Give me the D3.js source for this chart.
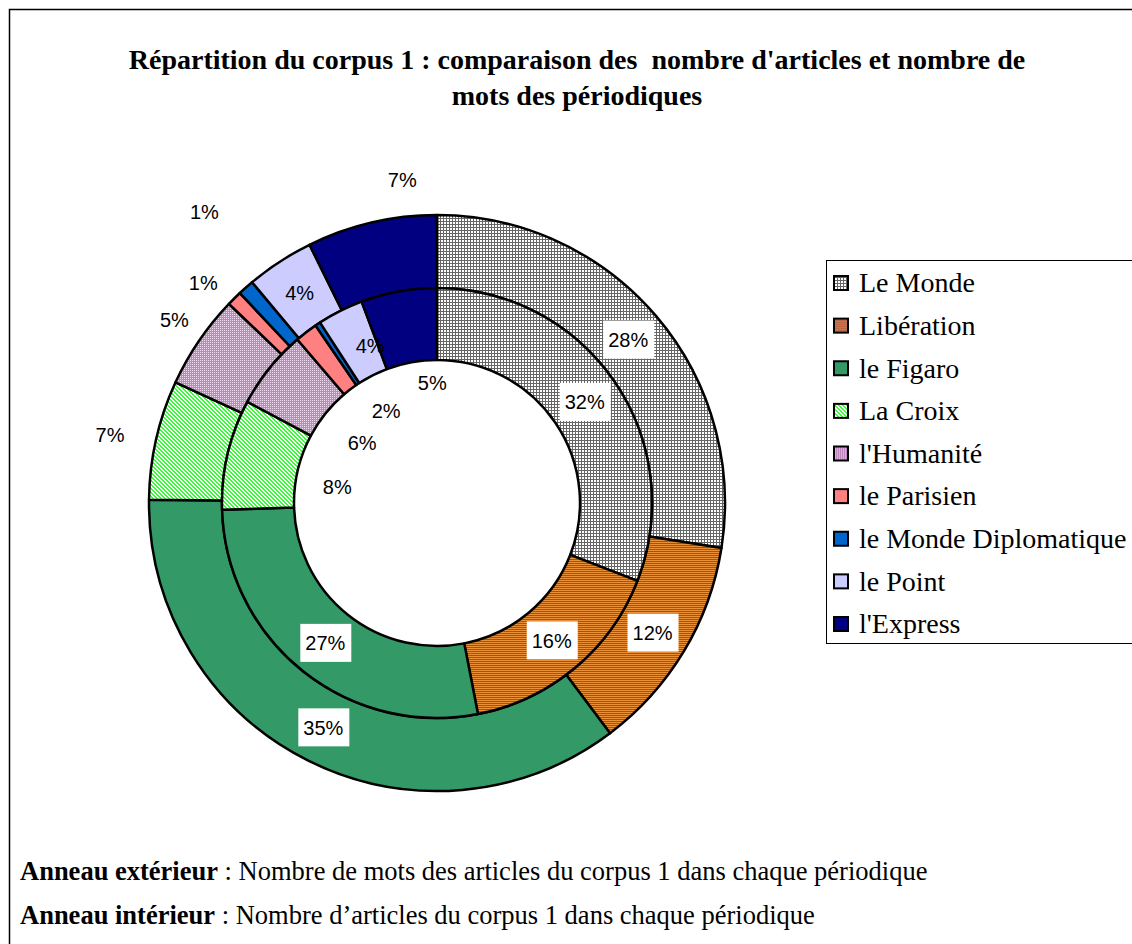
<!DOCTYPE html>
<html>
<head>
<meta charset="utf-8">
<script src="https://cdn.jsdelivr.net/npm/d3@7"></script>
<style>
  body { margin: 0; background: #fff; }
  svg { display: block; }
  .label { font-family: Arial, "Liberation Sans", sans-serif; font-size: 20px; fill: #000; }
  .serif { font-family: "Times New Roman", "Liberation Serif", serif; fill: #000; white-space: pre; }
</style>
</head>
<body>
<svg width="1132" height="944"></svg>
<script>
// the newspapers (same order for both rings, clockwise from 12 o'clock)
let periodiques = ["Le Monde", "Libération", "le Figaro", "La Croix", "l'Humanité",
  "le Parisien", "le Monde Diplomatique", "le Point", "l'Express"];

// outer ring: share of words
let motsValues = [27.5, 12.25, 35.45, 6.7, 5.27, 0.85, 0.9, 3.8, 7.3];
// inner ring: share of articles
let articlesValues = [30.9, 16.05, 27.55, 8.3, 5.95, 1.7, 0.4, 3.45, 5.7];

// the percentages excel printed on the chart
let motsLabels = ["28%", "12%", "35%", "7%", "5%", "1%", "1%", "4%", "7%"];
let articlesLabels = ["32%", "16%", "27%", "8%", "6%", "2%", "", "4%", "5%"];

let titleLines = ["Répartition du corpus 1 : comparaison des  nombre d'articles et nombre de",
  "mots des périodiques"];

let svg = d3.select("svg");

/*
 * fill patterns, they try to look like the old excel hatchings
 */
let defs = svg.append("defs");

// little helper: a pattern made of 1px cells
let pixelPattern = function(id, size, bg, fg, cells) {
  let p = defs.append("pattern")
    .attr("id", id)
    .attr("width", size)
    .attr("height", size)
    .attr("patternUnits", "userSpaceOnUse");
  p.append("rect").attr("width", size).attr("height", size).attr("fill", bg);
  cells.forEach(function(c) {
    p.append("rect")
      .attr("x", c[0]).attr("y", c[1])
      .attr("width", c[2] || 1).attr("height", c[3] || 1)
      .attr("fill", fg);
  });
};

// grid for le monde
pixelPattern("p-grid", 3, "#fff", "#666", [[0, 0, 3, 1], [0, 0, 1, 3]]);
// horizontal stripes for liberation
pixelPattern("p-stripes", 2, "#ea9038", "#9a4c4c", [[0, 0, 2, 1]]);
// diagonal for la croix
pixelPattern("p-diag", 4, "#fff", "#33ff33", [[0, 0, 2, 1], [1, 1, 2, 1], [2, 2, 2, 1], [3, 3, 1, 1], [0, 3, 1, 1]]);
// small checker for l'humanite
pixelPattern("p-check", 2, "#f0d8f0", "#bf86bf", [[0, 0, 2, 1], [0, 1, 1, 1]]);

let fills = ["url(#p-grid)", "url(#p-stripes)", "#339966", "url(#p-diag)", "url(#p-check)",
  "#ff8080", "#0066cc", "#ccccff", "#000080"];

let color = d3.scaleOrdinal()
  .domain(periodiques)
  .range(fills);

// frame round the whole picture (goes past the right and bottom edges)
svg.append("rect")
  .attr("x", 9.5)
  .attr("y", 9.5)
  .attr("width", 1200)
  .attr("height", 1000)
  .attr("fill", "none")
  .attr("stroke", "#000")
  .attr("stroke-width", 1.5);

// title
svg.append("g")
  .selectAll("text")
  .data(titleLines)
  .enter().append("text")
  .attr("class", "serif")
  .attr("x", 577)
  .attr("y", function(d, i) { return 69 + i * 36; })
  .attr("text-anchor", "middle")
  .style("font-size", "28px")
  .style("font-weight", "bold")
  .text(function(d) { return d; });

/*
 * the doughnut: two rings drawn with d3.pie and d3.arc
 */
let cx = 437, cy = 503;
let rHole = 143, rMid = 215, rOut = 288;

let pie = d3.pie()
  .sort(null)
  .value(function(d) { return d.value; });

let rings = [
  { name: "mots", values: motsValues, labels: motsLabels, r0: rMid, r1: rOut,
    // [radius, angle shift in degrees] for the labels excel pushed around, null = centroid
    place: [null, null, null, [334, -1], [320, 0.6], [321, -2], [373, 3], null, [325, 7]],
    boxed: [true, true, true, false, false, false, false, false, false] },
  { name: "articles", values: articlesValues, labels: articlesLabels, r0: rHole, r1: rMid,
    place: [null, null, null, [101, -4], [96, 0], [105, 8.5], null, [171, 3.7], [120, 8]],
    boxed: [true, true, true, false, false, false, false, false, false] }
];

let plot = svg.append("g")
  .attr("id", "plot")
  .attr("transform", "translate(" + cx + "," + cy + ")");

rings.forEach(function(ring) {
  let arc = d3.arc().innerRadius(ring.r0).outerRadius(ring.r1);
  let data = pie(ring.values.map(function(v, i) {
    return { key: periodiques[i], value: v, label: ring.labels[i], place: ring.place[i], boxed: ring.boxed[i] };
  }));

  let g = plot.append("g").attr("id", "ring-" + ring.name);

  g.selectAll("path")
    .data(data)
    .enter().append("path")
    .attr("d", arc)
    .attr("fill", function(d) { return color(d.data.key); })
    .attr("stroke", "#000")
    .attr("stroke-width", 2.5)
    .attr("stroke-linejoin", "round");

  // work out where each label goes
  data.forEach(function(d) {
    if (d.data.place) {
      let a = (d.startAngle + d.endAngle) / 2 + d.data.place[1] * Math.PI / 180;
      d.lx = d.data.place[0] * Math.sin(a);
      d.ly = -d.data.place[0] * Math.cos(a);
    } else {
      let c = arc.centroid(d);
      d.lx = c[0];
      d.ly = c[1];
    }
  });

  ring.data = data;
});

// labels go on top of both rings
rings.forEach(function(ring) {
  let lab = plot.append("g")
    .selectAll("g")
    .data(ring.data.filter(function(d) { return d.data.label !== ""; }))
    .enter().append("g")
    .attr("transform", function(d) { return "translate(" + d.lx + "," + d.ly + ")"; });

  lab.filter(function(d) { return d.data.boxed; })
    .append("rect")
    .attr("x", -25)
    .attr("y", -19)
    .attr("width", 51)
    .attr("height", 38)
    .attr("fill", "#fff");

  lab.append("text")
    .attr("class", "label")
    .attr("text-anchor", "middle")
    .attr("dy", "0.36em")
    .text(function(d) { return d.data.label; });
});

/*
 * legend on the right, its box runs off the picture
 */
let legend = svg.append("g").attr("id", "legend");

legend.append("rect")
  .attr("x", 826.5)
  .attr("y", 260.5)
  .attr("width", 400)
  .attr("height", 383)
  .attr("fill", "#fff")
  .attr("stroke", "#000")
  .attr("stroke-width", 1);

let legendY = d3.scalePoint()
  .domain(periodiques)
  .range([283, 624]);

let items = legend.selectAll("g.item")
  .data(periodiques)
  .enter().append("g")
  .attr("class", "item")
  .attr("transform", function(d) { return "translate(0," + legendY(d) + ")"; });

items.append("rect")
  .attr("x", 834)
  .attr("y", -7)
  .attr("width", 14)
  .attr("height", 14)
  .attr("fill", function(d) { return color(d); })
  .attr("stroke", "#000")
  .attr("stroke-width", 2);

items.append("text")
  .attr("class", "serif")
  .attr("x", 859)
  .attr("dy", "0.33em")
  .style("font-size", "28px")
  .text(function(d) { return d; });

// notes under the chart
let notes = [
  { bold: "Anneau extérieur", rest: " : Nombre de mots des articles du corpus 1 dans chaque périodique" },
  { bold: "Anneau intérieur", rest: " : Nombre d\u2019articles du corpus 1 dans chaque périodique" }
];

let noteText = svg.append("g")
  .selectAll("text")
  .data(notes)
  .enter().append("text")
  .attr("class", "serif")
  .attr("x", 20)
  .attr("y", function(d, i) { return 880 + i * 44; })
  .style("font-size", "26.5px");

noteText.append("tspan")
  .style("font-weight", "bold")
  .text(function(d) { return d.bold; });
noteText.append("tspan")
  .text(function(d) { return d.rest; });
</script>
</body>
</html>
